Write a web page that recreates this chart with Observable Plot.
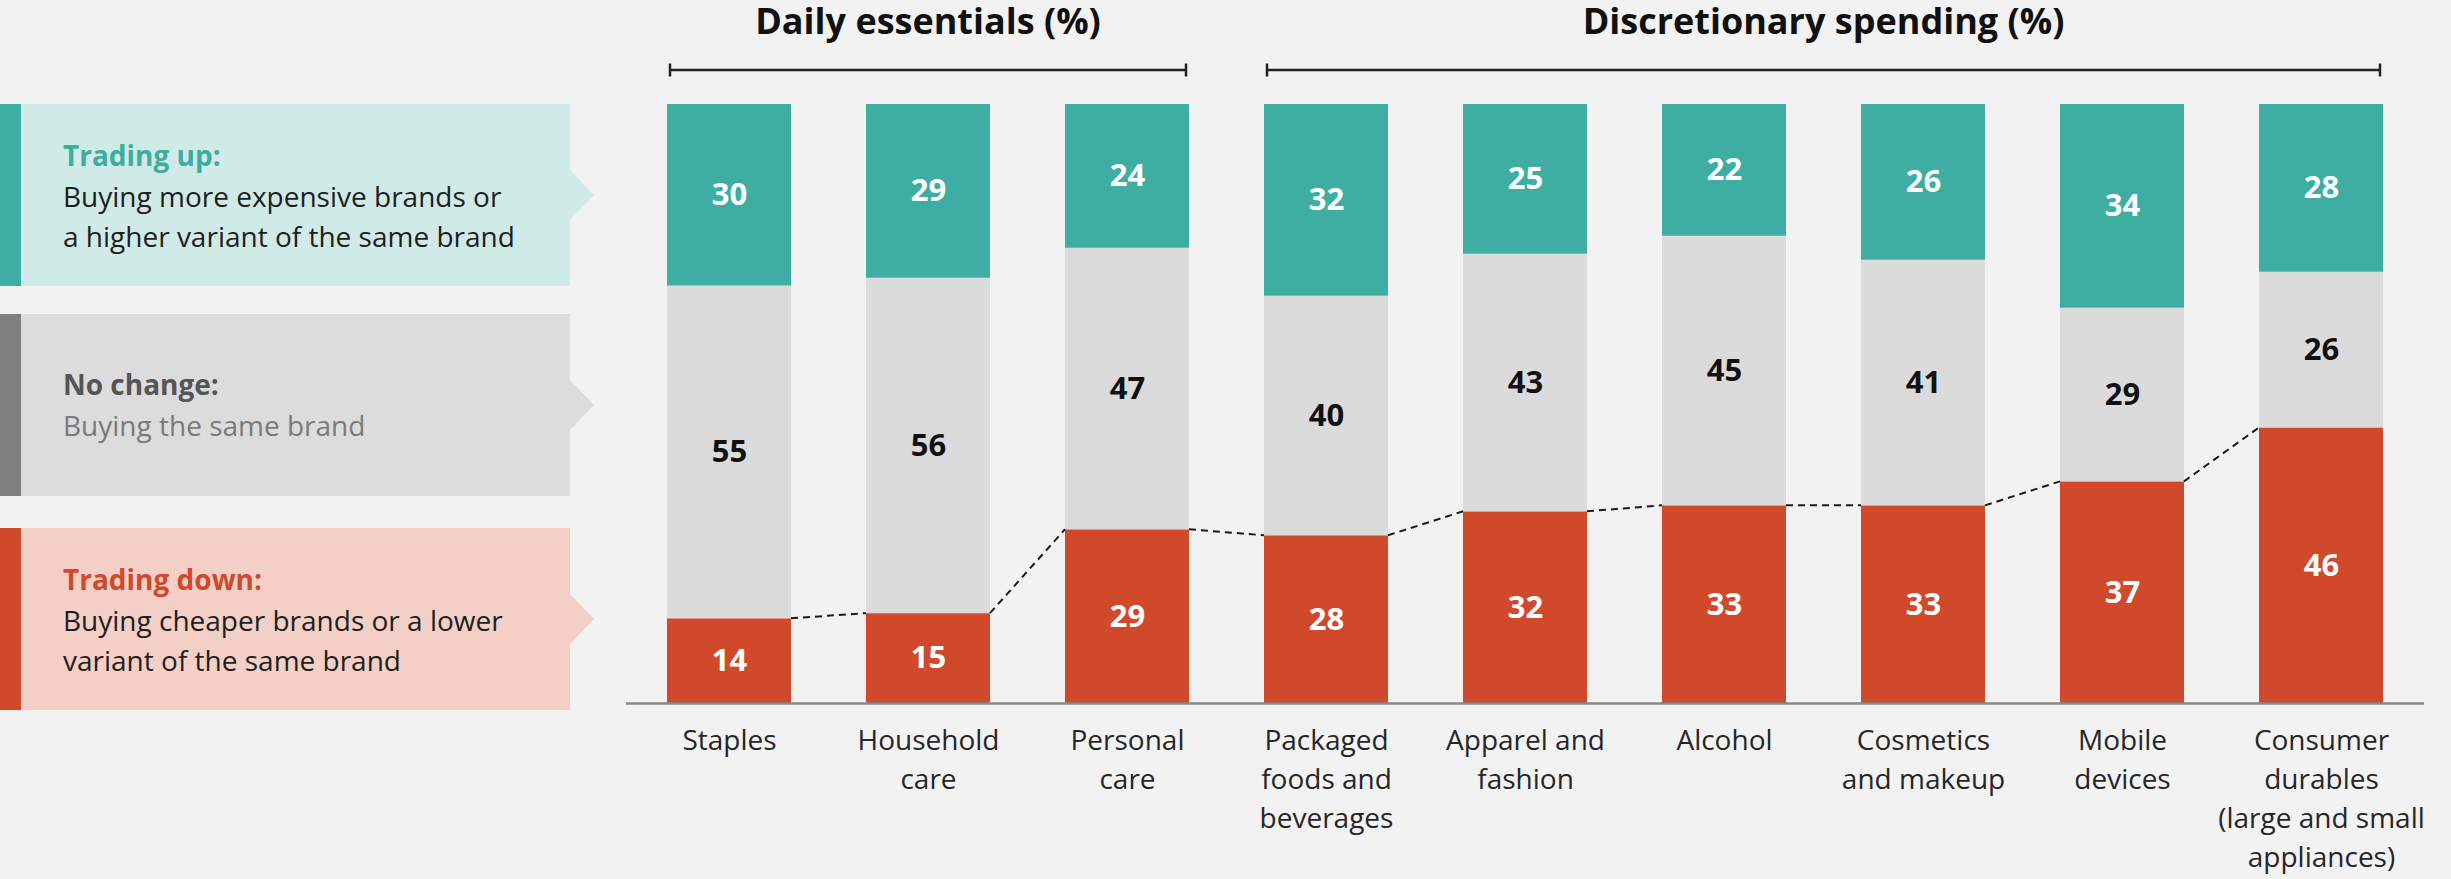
<!DOCTYPE html>
<html>
<head>
<meta charset="utf-8">
<script src="https://cdn.jsdelivr.net/npm/d3@7"></script>
<script src="https://cdn.jsdelivr.net/npm/@observablehq/plot@0.6"></script>
<style>
  html, body { margin: 0; padding: 0; background: #f2f2f2; overflow: hidden; }
  #chart { width: 2451px; height: 879px; }
</style>
</head>
<body>
<div id="chart"></div>
<script>
// ---- data ----
const categories = ["Staples", "Household care", "Personal care", "Packaged foods and beverages",
  "Apparel and fashion", "Alcohol", "Cosmetics and makeup", "Mobile devices",
  "Consumer durables (large and small appliances)"];
const categoryLabels = ["Staples", "Household\ncare", "Personal\ncare", "Packaged\nfoods and\nbeverages",
  "Apparel and\nfashion", "Alcohol", "Cosmetics\nand makeup", "Mobile\ndevices",
  "Consumer\ndurables\n(large and small\nappliances)"];
const tradingDown = [14, 15, 29, 28, 32, 33, 33, 37, 46];
const noChange    = [55, 56, 47, 40, 43, 45, 41, 29, 26];
const tradingUp   = [30, 29, 24, 32, 25, 22, 26, 34, 28];

const groupTitles = ["Daily essentials (%)", "Discretionary spending (%)"];
const groupFirst = ["Staples", "Packaged foods and beverages"];
const groupLast = ["Personal care", "Consumer durables (large and small appliances)"];

const legendKeys = ["up", "none", "down"];
const legendTitles = ["Trading up:", "No change:", "Trading down:"];
const legendLines = [
  ["Buying more expensive brands or", "a higher variant of the same brand"],
  ["Buying the same brand"],
  ["Buying cheaper brands or a lower", "variant of the same brand"]
];

// ---- styles ----
const fillOf = {down: "#d0492b", none: "#dbdbdb", up: "#3eaea3"};
const textOf = {down: "#ffffff", none: "#111111", up: "#ffffff"};
const legendBg = {up: "#d0ebe7", none: "#dcdcdc", down: "#f4cfc6"};
const legendStripe = {up: "#3eaea3", none: "#808080", down: "#d0492b"};
const legendTitleColor = {up: "#3dada2", none: "#555555", down: "#d0492b"};
const legendTextColor = {up: "#1e1e1e", none: "#7a7a7a", down: "#1e1e1e"};
const FONT = "'Open Sans', 'Liberation Sans', sans-serif";

const rows = [];
categories.forEach((c, i) => {
  rows.push({cat: c, type: "down", value: tradingDown[i]});
  rows.push({cat: c, type: "none", value: noChange[i]});
  rows.push({cat: c, type: "up", value: tradingUp[i]});
});

const plot = Plot.plot({
  width: 2451,
  height: 879,
  marginLeft: 626,
  marginRight: 27,
  marginTop: 104,
  marginBottom: 176,
  style: {background: "transparent", fontFamily: FONT, overflow: "visible"},
  x: {domain: categories, paddingInner: 0.379, paddingOuter: 0.194, axis: null},
  y: {domain: [0, 1], axis: null},
  color: {type: "identity"},
  marks: [
    Plot.barY(rows, Plot.stackY({x: "cat", y: "value", z: "type", order: ["down", "none", "up"],
      offset: "normalize", fill: d => fillOf[d.type]})),
    Plot.ruleY([0], {stroke: "#888888", strokeWidth: 2.5}),
    Plot.text(rows, Plot.stackY({x: "cat", y: "value", z: "type", order: ["down", "none", "up"],
      offset: "normalize", text: d => String(d.value), fill: d => textOf[d.type],
      fontSize: 31, fontWeight: 700})),
    Plot.text(categories, {x: d => d, frameAnchor: "bottom", text: (d, i) => categoryLabels[i],
      lineAnchor: "top", dy: 19, fontSize: 28, lineHeight: 1.39, fill: "#262626", fontWeight: 400})
  ]
});

document.getElementById("chart").appendChild(plot);

// ---- annotations drawn with the plot's own scales ----
const svg = d3.select(plot);
const xs = plot.scale("x");
const ys = plot.scale("y");
const bw = xs.bandwidth;

// dashed connector between trading-down tops
const downShare = categories.map((c, i) => tradingDown[i] / (tradingDown[i] + noChange[i] + tradingUp[i]));
const dash = svg.append("g").attr("fill", "none").attr("stroke", "#1a1a1a")
  .attr("stroke-width", 2).attr("stroke-dasharray", "7,5");
for (let i = 0; i < categories.length - 1; i++) {
  dash.append("line")
    .attr("x1", xs.apply(categories[i]) + bw)
    .attr("y1", ys.apply(downShare[i]))
    .attr("x2", xs.apply(categories[i + 1]))
    .attr("y2", ys.apply(downShare[i + 1]));
}

// group brackets + headings
const bracketY = 70;
groupTitles.forEach((t, k) => {
  const x1 = xs.apply(groupFirst[k]) + 3;
  const x2 = xs.apply(groupLast[k]) + bw - 3;
  const g = svg.append("g").attr("stroke", "#222").attr("stroke-width", 2.5);
  g.append("line").attr("x1", x1).attr("x2", x2).attr("y1", bracketY).attr("y2", bracketY);
  g.append("line").attr("x1", x1).attr("x2", x1).attr("y1", bracketY - 6.5).attr("y2", bracketY + 6.5);
  g.append("line").attr("x1", x2).attr("x2", x2).attr("y1", bracketY - 6.5).attr("y2", bracketY + 6.5);
  svg.append("text").attr("x", (x1 + x2) / 2).attr("y", 34)
    .attr("text-anchor", "middle").attr("font-family", FONT).attr("font-weight", 700)
    .attr("font-size", 36).attr("fill", "#111").text(t);
});

// legend panels on the left
const boxTop = [104, 314, 528];
const boxH = 182, boxW = 570;
legendKeys.forEach((key, k) => {
  const g = svg.append("g").attr("transform", `translate(0,${boxTop[k]})`)
    .attr("text-anchor", "start");
  g.append("rect").attr("x", 0).attr("y", 0).attr("width", boxW).attr("height", boxH).attr("fill", legendBg[key]);
  g.append("polygon")
    .attr("points", `${boxW},${boxH / 2 - 25} ${boxW + 24},${boxH / 2} ${boxW},${boxH / 2 + 25}`)
    .attr("fill", legendBg[key]);
  g.append("rect").attr("x", 0).attr("y", 0).attr("width", 21).attr("height", boxH).attr("fill", legendStripe[key]);
  const lines = legendLines[k];
  const first = lines.length === 1 ? 81 : 62;
  g.append("text").attr("x", 63).attr("y", first).attr("font-family", FONT).attr("text-anchor", "start")
    .attr("font-weight", 700).attr("font-size", 28).attr("fill", legendTitleColor[key]).text(legendTitles[k]);
  lines.forEach((ln, j) => {
    g.append("text").attr("x", 63).attr("y", first + 40.5 * (j + 1)).attr("font-family", FONT)
      .attr("text-anchor", "start")
      .attr("font-size", 28).attr("fill", legendTextColor[key]).text(ln);
  });
});
</script>
</body>
</html>
